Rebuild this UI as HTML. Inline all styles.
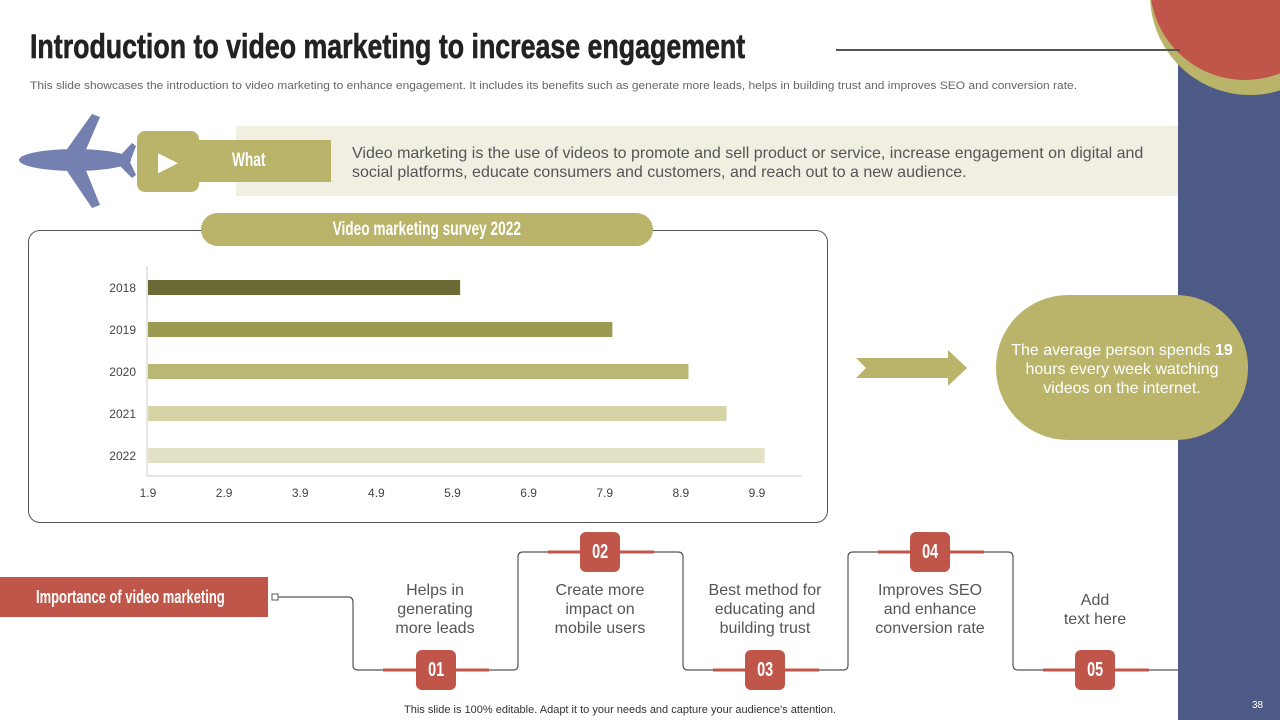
<!DOCTYPE html>
<html><head><meta charset="utf-8"><style>
body{margin:0;width:1280px;height:720px;overflow:hidden;background:#fff;font-family:"Liberation Sans",sans-serif;position:relative}
.abs{position:absolute}
.nar{font-weight:bold}
.sq{display:inline-block;transform:scaleX(0.72);white-space:nowrap}
.step{position:absolute;width:150px;text-align:center;color:#555;font-size:16px;line-height:19px}
.badge{position:absolute;width:40px;height:40px;background:#c0564a;border-radius:6px;color:#fff;text-align:center;line-height:40px;font-size:20px}
</style></head><body>
<div class="abs" style="left:1178px;top:50px;width:102px;height:670px;background:#4d5a85"></div>
<svg class="abs" style="left:0;top:0" width="1280" height="720">
<circle cx="1250" cy="-5" r="100" fill="#b9b46a"/>
<circle cx="1245" cy="-15" r="95" fill="#c0564a"/>
<line x1="836" y1="50" x2="1180" y2="50" stroke="#555" stroke-width="2"/>
<g fill="#7480b0">
<ellipse cx="75" cy="160" rx="56" ry="11"/>
<polygon points="65,152 92,114 100,117 85,152"/>
<polygon points="65,168 92,208 100,205 85,168"/>
<polygon points="118,158 132,143 136,146 130,162 136,175 132,178 118,164"/>
</g>
<path d="M275,597 H348 Q353,597 353,602 V665 Q353,670 358,670 H513 Q518,670 518,665 V557 Q518,552 523,552 H678 Q683,552 683,557 V665 Q683,670 688,670 H843 Q848,670 848,665 V557 Q848,552 853,552 H1008 Q1013,552 1013,557 V665 Q1013,670 1018,670 H1178" fill="none" stroke="#555" stroke-width="1.2"/>
<rect x="272" y="594" width="6" height="6" fill="#fff" stroke="#555"/>
<g stroke="#c0564a" stroke-width="3">
<line x1="383" y1="670" x2="489" y2="670"/><line x1="548" y1="552" x2="654" y2="552"/>
<line x1="713" y1="670" x2="819" y2="670"/><line x1="878" y1="552" x2="984" y2="552"/>
<line x1="1043" y1="670" x2="1149" y2="670"/></g>
<polygon points="856,358 948,358 948,350 967,368 948,386 948,378 856,378 866,368" fill="#b9b46a"/>
</svg>
<div class="abs nar" style="left:30px;top:28px;font-size:34px;color:#222;transform:scaleX(0.787);transform-origin:left;white-space:nowrap;-webkit-text-stroke:0.6px #222">Introduction to video marketing to increase engagement</div>
<div class="abs" style="left:30px;top:80px;font-size:11px;color:#666;white-space:nowrap;transform:scaleX(1.09);transform-origin:left">This slide showcases the introduction to video marketing to enhance engagement. It includes its benefits such as generate more leads, helps in building trust and improves SEO and conversion rate.</div>
<div class="abs" style="left:236px;top:126px;width:942px;height:70px;background:#f1efe1"></div>
<div class="abs" style="left:195px;top:140px;width:136px;height:42px;background:#b9b46a"></div>
<div class="abs nar" style="left:232px;top:150px;color:#fff;font-size:19px;transform:scaleX(0.72);transform-origin:left">What</div>
<div class="abs" style="left:137px;top:131px;width:62px;height:61px;background:#b9b46a;border-radius:8px;color:#fff;font-size:26px;text-align:center;line-height:61px">▶</div>
<div class="abs" style="left:352px;top:144px;width:800px;font-size:16px;line-height:19px;color:#555">Video marketing is the use of videos to promote and sell product or service, increase engagement on digital and social platforms, educate consumers and customers, and reach out to a new audience.</div>
<div class="abs" style="left:28px;top:230px;width:798px;height:291px;border:1px solid #555;border-radius:12px"></div>
<div class="abs nar" style="left:201px;top:213px;width:452px;height:33px;background:#b9b46a;border-radius:17px;color:#fff;font-size:19px;text-align:center;line-height:33px"><span class="sq">Video marketing survey 2022</span></div>
<svg id="chart" class="abs" style="left:0;top:0" width="840" height="520"></svg>
<div class="abs" style="left:996px;top:295px;width:252px;height:145px;background:#b9b46a;border-radius:72px"></div>
<div class="abs" style="left:1006px;top:341px;width:232px;text-align:center;color:#fff;font-size:16px;line-height:19px">The average person spends <b>19</b> hours every week watching videos on the internet.</div>
<div class="abs nar" style="left:0;top:577px;width:268px;height:40px;background:#c0564a;color:#fff;font-size:18px;line-height:40px"><span class="sq" style="transform-origin:left;margin-left:36px">Importance of video marketing</span></div>
<div class="step" style="left:360px;top:581px">Helps in<br>generating<br>more leads</div>
<div class="step" style="left:525px;top:581px">Create more<br>impact on<br>mobile users</div>
<div class="step" style="left:690px;top:581px">Best method for<br>educating and<br>building trust</div>
<div class="step" style="left:855px;top:581px">Improves SEO<br>and enhance<br>conversion rate</div>
<div class="step" style="left:1020px;top:591px">Add<br>text here</div>
<div class="badge nar" style="left:416px;top:650px"><span class="sq">01</span></div>
<div class="badge nar" style="left:580px;top:532px"><span class="sq">02</span></div>
<div class="badge nar" style="left:745px;top:650px"><span class="sq">03</span></div>
<div class="badge nar" style="left:910px;top:532px"><span class="sq">04</span></div>
<div class="badge nar" style="left:1075px;top:650px"><span class="sq">05</span></div>
<div class="abs" style="left:404px;top:704px;font-size:11px;color:#333">This slide is 100% editable. Adapt it to your needs and capture your audience's attention.</div>
<div class="abs" style="left:1252px;top:700px;font-size:10px;color:#fff">38</div>
<script>
const categories=["2018","2019","2020","2021","2022"];
const values=[6.0,8.0,9.0,9.5,10.0];
const ticks=[1.9,2.9,3.9,4.9,5.9,6.9,7.9,8.9,9.9];
const colors=["#6b6a35","#9b9a50","#bab775","#d6d4a6","#e3e1c4"];
const svg=document.getElementById('chart');const NS="http://www.w3.org/2000/svg";
const x=v=>148+(v-1.9)*76.125;const y=i=>287+i*42;
function mk(t,a){const e=document.createElementNS(NS,t);for(const k in a)e.setAttribute(k,a[k]);svg.appendChild(e);return e;}
let ax=mk('line',{x1:147,y1:266,x2:147,y2:476,stroke:'#ccc'});


let bx=mk('line',{x1:147,y1:476,x2:802,y2:476,stroke:'#ccc'});


categories.forEach((c,i)=>{
 const r=mk('rect',{x:148,y:y(i)-7,width:x(values[i])-148,height:15,fill:colors[i]});
 
 
 const t=mk('text',{x:136,y:y(i)+5,'text-anchor':'end','font-size':12,fill:'#444'});t.textContent=c;
 
 
});
ticks.forEach(v=>{
 const t=mk('text',{x:x(v),y:497,'text-anchor':'middle','font-size':12,fill:'#444'});t.textContent=v.toFixed(1);
 
 
});
</script>
</body></html>
